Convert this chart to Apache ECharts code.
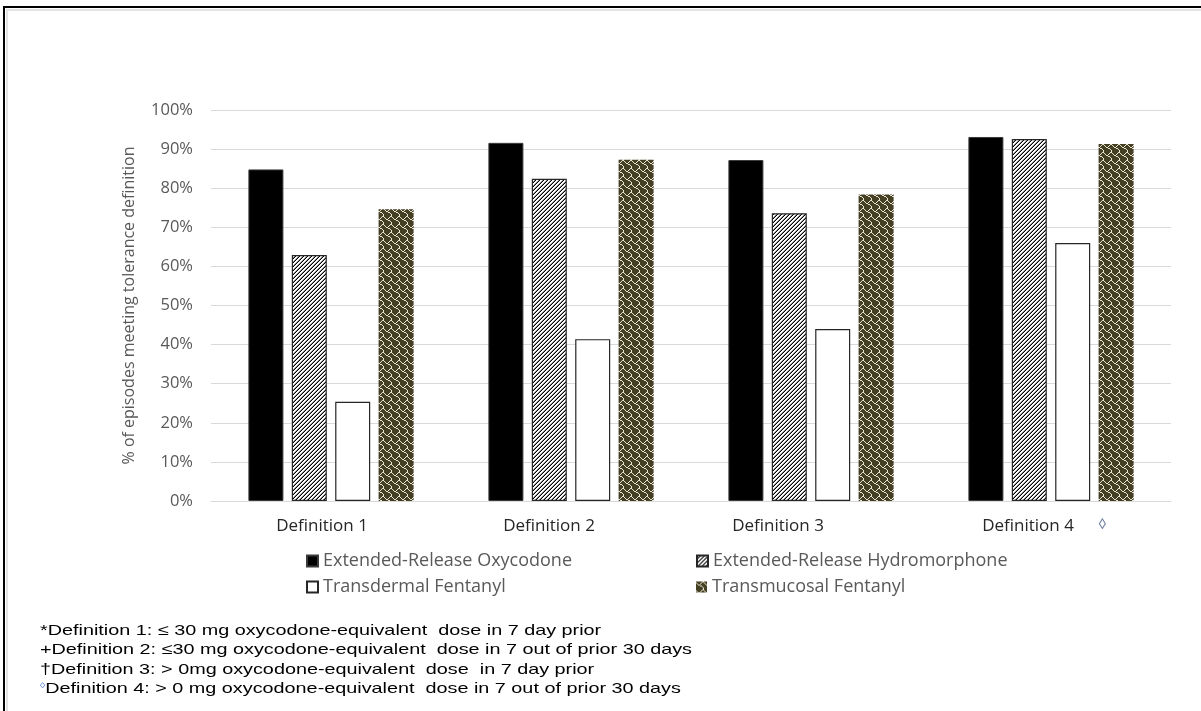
<!DOCTYPE html>
<html>
<head>
<meta charset="utf-8">
<script src="https://cdn.jsdelivr.net/npm/echarts@6/dist/echarts.min.js"></script>
<style>
  html, body { margin: 0; padding: 0; background: #fff; }
  #wrap { position: relative; width: 1201px; height: 711px; overflow: hidden; }
  #chart { position: absolute; left: 0; top: 0; width: 1201px; height: 711px; }
  #frame { position: absolute; left: 3px; top: 6px; width: 1210px; height: 720px;
           border-left: 2px solid #000; border-top: 2px solid #000; pointer-events: none; }
  #frame-inner { position: absolute; left: 1px; top: 1px; width: 1210px; height: 720px;
           border-left: 2px solid #e4e4e4; border-top: 2px solid #e4e4e4; }
</style>
</head>
<body>
<div id="wrap">
  <div id="chart"></div>
  <div id="frame"><div id="frame-inner"></div></div>
</div>
<script>
// Share of episodes meeting each opioid-tolerance definition, by product
const categories = ['Definition 1', 'Definition 2', 'Definition 3', 'Definition 4'];
const seriesNames = [
  'Extended-Release Oxycodone',
  'Extended-Release Hydromorphone',
  'Transdermal Fentanyl',
  'Transmucosal Fentanyl'
];
const oxycodone     = [84.8, 91.6, 87.2, 93.1];
const hydromorphone = [62.9, 82.4, 73.6, 92.6];
const transdermal   = [25.4, 41.4, 44.0, 66.0];
const transmucosal  = [74.6, 87.3, 78.4, 91.3];
const yTicks = [0, 10, 20, 30, 40, 50, 60, 70, 80, 90, 100];
const footnotes = [
  ['*', 'Definition 1: \u2264 30 mg oxycodone-equivalent  dose in 7 day prior'],
  ['+', 'Definition 2: \u226430 mg oxycodone-equivalent  dose in 7 out of prior 30 days'],
  ['\u2020', 'Definition 3: > 0mg oxycodone-equivalent  dose  in 7 day prior'],
  ['\u25CA', 'Definition 4: > 0 mg oxycodone-equivalent  dose in 7 out of prior 30 days']
];

// Build a repeating bitmap fill; each character in a row picks a colour from the palette
function bitmapPattern(rows, palette) {
  const h = rows.length, w = rows[0].length;
  const c = document.createElement('canvas');
  c.width = w; c.height = h;
  const ctx = c.getContext('2d');
  for (let y = 0; y < h; y++)
    for (let x = 0; x < w; x++) {
      ctx.fillStyle = palette[rows[y][x]];
      ctx.fillRect(x, y, 1, 1);
    }
  return { image: c, repeat: 'repeat' };
}

// upward diagonal hatch
const diagFill = bitmapPattern([
  '0021',
  '0210',
  '2100',
  '1002'
], { '0': '#ffffff', '1': '#000000', '2': '#8c8c8c' });

// shingle hatch on dark olive
const shingleFill = bitmapPattern([
  '00000011',
  '10000100',
  '01001000',
  '00110000',
  '00001100',
  '00000010',
  '00000001',
  '00000001'
], { '0': '#454023', '1': '#e6e2d4' });

const fillStyles = [
  { color: '#000000', borderColor: '#3a3a3a', borderWidth: 1 },
  { color: diagFill, borderColor: '#262626', borderWidth: 1.2 },
  { color: '#ffffff', borderColor: '#262626', borderWidth: 1.2 },
  { color: shingleFill, borderColor: '#454023', borderWidth: 0 }
];
const valueSets = [oxycodone, hydromorphone, transdermal, transmucosal];

// horizontal offsets of the category captions
const captionShift = [18, 44, 66, 46];

const FONT = '"Open Sans", "Noto Sans", sans-serif';
const NOTE_FONT = '"Liberation Sans", Arial, sans-serif';
const legendSpots = [
  { left: 306, top: 552 },
  { left: 696, top: 552 },
  { left: 306, top: 578 },
  { left: 696, top: 578 }
];
const noteLineY = [631, 650.3, 669.6, 689];

const chart = echarts.init(document.getElementById('chart'), null, { renderer: 'canvas' });

const option = {
  animation: false,
  backgroundColor: '#ffffff',
  grid: { left: 211, right: 30, top: 110, bottom: 210, containLabel: false },
  xAxis: {
    type: 'category',
    data: categories,
    axisLine: { show: true, lineStyle: { color: '#d9d9d9', width: 1 } },
    axisTick: { show: false },
    axisLabel: {
      margin: 17,
      formatter: (v, i) => '{c' + i + '|' + v + '}',
      rich: Object.fromEntries(captionShift.map((s, i) => ['c' + i, {
        fontFamily: FONT, fontSize: 17, color: '#262626', padding: [0, s, 0, 0]
      }]))
    }
  },
  yAxis: {
    type: 'value',
    min: 0, max: 100, interval: 10,
    name: '% of episodes meeting tolerance definition',
    nameLocation: 'middle',
    nameGap: 74,
    nameTextStyle: { fontFamily: FONT, fontSize: 16, color: '#595959' },
    axisLine: { show: false },
    axisTick: { show: false },
    axisLabel: {
      margin: 18,
      fontFamily: FONT, fontSize: 16.5, color: '#595959',
      formatter: v => yTicks.includes(v) ? v + '%' : ''
    },
    splitLine: { lineStyle: { color: '#d9d9d9', width: 1 } }
  },
  legend: seriesNames.map((n, i) => ({
    data: [n],
    left: legendSpots[i].left,
    top: legendSpots[i].top,
    padding: 0,
    icon: 'rect',
    itemWidth: 11,
    itemHeight: 11,
    selectedMode: false,
    textStyle: { fontFamily: FONT, fontSize: 18, lineHeight: 18, color: '#595959' }
  })),
  series: seriesNames.map((n, i) => ({
    name: n,
    type: 'bar',
    data: valueSets[i],
    barWidth: 35,
    barGap: '24%',
    itemStyle: fillStyles[i]
  })),
  graphic: [
    {
      type: 'text', left: 1098, top: 517,
      style: { text: '\u25CA', font: '15px ' + FONT, fill: '#6f7f9f' }
    },
    ...footnotes.map((f, i) => ({
      type: 'text', x: 40, y: noteLineY[i], scaleX: 1.32,
      style: {
        x: 0, y: 0,
        verticalAlign: 'middle',
        text: '{m|' + f[0] + '}{t|' + f[1] + '}',
        rich: {
          m: i === 3
            ? { fontFamily: NOTE_FONT, fontSize: 8, fill: '#4472c4', verticalAlign: 'top', padding: [0, 0, 7, 0] }
            : { fontFamily: NOTE_FONT, fontSize: 15, fill: '#000' },
          t: { fontFamily: NOTE_FONT, fontSize: 15, fill: '#000' }
        }
      }
    }))
  ]
};

chart.setOption(option);
</script>
</body>
</html>
